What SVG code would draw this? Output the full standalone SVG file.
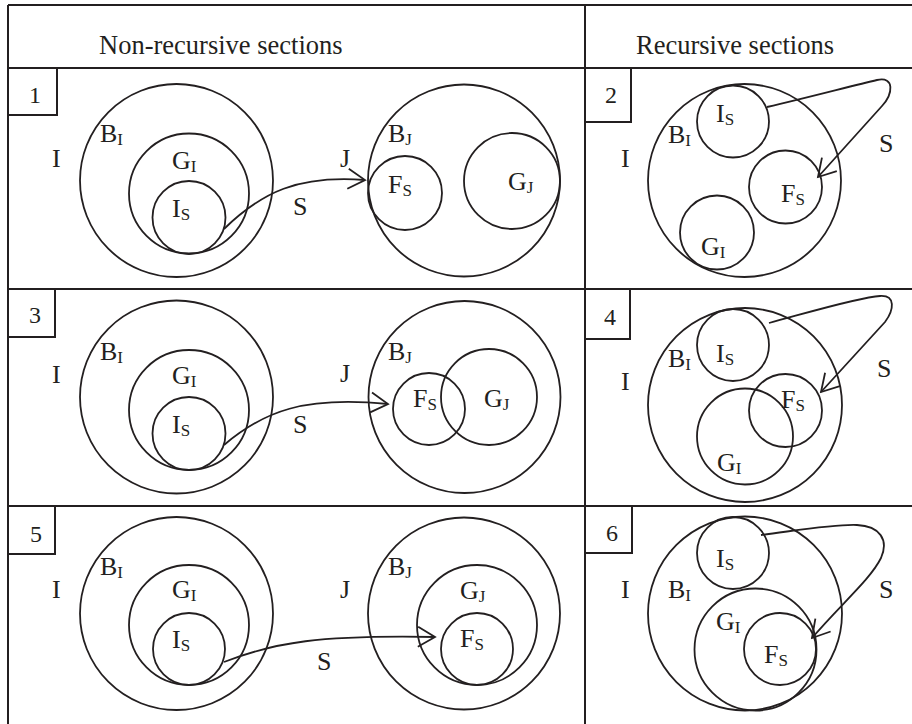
<svg xmlns="http://www.w3.org/2000/svg" width="912" height="724" viewBox="0 0 912 724">
<style>
.c{fill:none;stroke:#231f20;stroke-width:1.8}
.g{fill:none;stroke:#231f20;stroke-width:2}
.t{font-family:"Liberation Serif","Times New Roman",serif;font-size:26px;fill:#231f20}
.h{font-family:"Liberation Serif","Times New Roman",serif;font-size:26.5px;fill:#231f20}
.n{font-family:"Liberation Serif","Times New Roman",serif;font-size:24px;fill:#231f20;text-anchor:middle}
.s{font-size:17px}
.a{fill:none;stroke:#231f20;stroke-width:1.8;marker-end:url(#ah)}
</style>
<defs>
<marker id="ah" markerUnits="userSpaceOnUse" markerWidth="40" markerHeight="40" viewBox="0 0 40 40" refX="20" refY="20" orient="auto" overflow="visible">
<path d="M3,10 L20,20 L3,30" fill="none" stroke="#231f20" stroke-width="1.8"/>
</marker>
</defs>
<rect width="912" height="724" fill="#fff"/>
<g id="table">
<path class="g" d="M8,5 V724 M8,5 H912 M8,68 H912 M8,289 H912 M8,506 H912 M585,5 V724"/>
<path class="g" d="M8,115 H57 V68 M585,122 H631 V68 M8,337 H55 V289 M585,339 H630 V289 M8,554 H55 V506 M585,553 H632 V506"/>
<text class="h" x="99" y="54">Non-recursive sections</text>
<text class="h" x="636" y="54">Recursive sections</text>
<text class="n" x="35" y="103">1</text>
<text class="n" x="611" y="103">2</text>
<text class="n" x="35" y="323">3</text>
<text class="n" x="610" y="325">4</text>
<text class="n" x="36" y="542">5</text>
<text class="n" x="612" y="541">6</text>
</g>
<g id="p1-I"><text class="t" x="52" y="167">I</text></g>
<g id="p1-BI"><circle class="c" cx="176.5" cy="180.5" r="96.5"/><text class="t" x="100" y="142">B<tspan class="s" dy="3">I</tspan></text></g>
<g id="p1-GI"><circle class="c" cx="189" cy="193.5" r="60"/><text class="t" x="172" y="169">G<tspan class="s" dy="3">I</tspan></text></g>
<g id="p1-IS"><circle class="c" cx="189" cy="217.5" r="36.5"/><text class="t" x="172" y="217">I<tspan class="s" dy="3">S</tspan></text></g>
<g id="p1-S"><text class="t" x="293" y="215">S</text></g>
<g id="p1-J"><text class="t" x="340" y="167">J</text></g>
<g id="p1-BJ"><circle class="c" cx="464" cy="180.5" r="96"/><text class="t" x="388" y="142">B<tspan class="s" dy="3">J</tspan></text></g>
<g id="p1-FS"><circle class="c" cx="405" cy="193" r="37"/><text class="t" x="388" y="193">F<tspan class="s" dy="3">S</tspan></text></g>
<g id="p1-GJ"><circle class="c" cx="512" cy="181" r="48"/><text class="t" x="508" y="190">G<tspan class="s" dy="3">J</tspan></text></g>

<g id="p2-I"><text class="t" x="621" y="167">I</text></g>
<g id="p2-BI"><circle class="c" cx="744.5" cy="180.5" r="96.5"/><text class="t" x="668" y="143">B<tspan class="s" dy="3">I</tspan></text></g>
<g id="p2-IS"><circle class="c" cx="733" cy="121.5" r="36"/><text class="t" x="716" y="122">I<tspan class="s" dy="3">S</tspan></text></g>
<g id="p2-FS"><circle class="c" cx="785.5" cy="187" r="36.5"/><text class="t" x="781" y="202">F<tspan class="s" dy="3">S</tspan></text></g>
<g id="p2-GI"><circle class="c" cx="717" cy="232.5" r="37"/><text class="t" x="701" y="255">G<tspan class="s" dy="3">I</tspan></text></g>
<g id="p2-S"><text class="t" x="879" y="152">S</text></g>

<g id="p3-I"><text class="t" x="52" y="383">I</text></g>
<g id="p3-BI"><circle class="c" cx="176.5" cy="397" r="96.5"/><text class="t" x="100" y="360">B<tspan class="s" dy="3">I</tspan></text></g>
<g id="p3-GI"><circle class="c" cx="189" cy="410" r="60"/><text class="t" x="172" y="384">G<tspan class="s" dy="3">I</tspan></text></g>
<g id="p3-IS"><circle class="c" cx="189" cy="433.5" r="36.5"/><text class="t" x="172" y="433">I<tspan class="s" dy="3">S</tspan></text></g>
<g id="p3-S"><text class="t" x="293" y="433">S</text></g>
<g id="p3-J"><text class="t" x="340" y="382">J</text></g>
<g id="p3-BJ"><circle class="c" cx="464.5" cy="397" r="96"/><text class="t" x="388" y="360">B<tspan class="s" dy="3">J</tspan></text></g>
<g id="p3-FS"><circle class="c" cx="429" cy="409" r="36"/><text class="t" x="413" y="407">F<tspan class="s" dy="3">S</tspan></text></g>
<g id="p3-GJ"><circle class="c" cx="489" cy="397" r="48"/><text class="t" x="484" y="407">G<tspan class="s" dy="3">J</tspan></text></g>

<g id="p4-I"><text class="t" x="621" y="390">I</text></g>
<g id="p4-BI"><circle class="c" cx="745" cy="405" r="97"/><text class="t" x="668" y="367">B<tspan class="s" dy="3">I</tspan></text></g>
<g id="p4-IS"><circle class="c" cx="733" cy="345" r="36"/><text class="t" x="716" y="362">I<tspan class="s" dy="3">S</tspan></text></g>
<g id="p4-FS"><circle class="c" cx="785.5" cy="410.5" r="36.5"/><text class="t" x="781" y="408">F<tspan class="s" dy="3">S</tspan></text></g>
<g id="p4-GI"><circle class="c" cx="745" cy="436.5" r="48"/><text class="t" x="717" y="471">G<tspan class="s" dy="3">I</tspan></text></g>
<g id="p4-S"><text class="t" x="877" y="377">S</text></g>

<g id="p5-I"><text class="t" x="52" y="598">I</text></g>
<g id="p5-BI"><circle class="c" cx="176.5" cy="613.5" r="96.5"/><text class="t" x="100" y="575">B<tspan class="s" dy="3">I</tspan></text></g>
<g id="p5-GI"><circle class="c" cx="189" cy="625" r="60"/><text class="t" x="172" y="598">G<tspan class="s" dy="3">I</tspan></text></g>
<g id="p5-IS"><circle class="c" cx="189" cy="649" r="36"/><text class="t" x="172" y="648">I<tspan class="s" dy="3">S</tspan></text></g>
<g id="p5-S"><text class="t" x="317" y="670">S</text></g>
<g id="p5-J"><text class="t" x="340" y="598">J</text></g>
<g id="p5-BJ"><circle class="c" cx="464" cy="613.5" r="96"/><text class="t" x="388" y="575">B<tspan class="s" dy="3">J</tspan></text></g>
<g id="p5-GJ"><circle class="c" cx="477" cy="625" r="60"/><text class="t" x="460" y="599">G<tspan class="s" dy="3">J</tspan></text></g>
<g id="p5-FS"><circle class="c" cx="477" cy="649" r="36"/><text class="t" x="460" y="647">F<tspan class="s" dy="3">S</tspan></text></g>

<g id="p6-I"><text class="t" x="621" y="598">I</text></g>
<g id="p6-BI"><circle class="c" cx="745" cy="613.5" r="97"/><text class="t" x="668" y="598">B<tspan class="s" dy="3">I</tspan></text></g>
<g id="p6-IS"><circle class="c" cx="733" cy="553" r="36"/><text class="t" x="716" y="567">I<tspan class="s" dy="3">S</tspan></text></g>
<g id="p6-GI"><circle class="c" cx="755.5" cy="649.5" r="61"/><text class="t" x="716" y="630">G<tspan class="s" dy="3">I</tspan></text></g>
<g id="p6-FS"><circle class="c" cx="780" cy="649" r="36"/><text class="t" x="764" y="663">F<tspan class="s" dy="3">S</tspan></text></g>
<g id="p6-S"><text class="t" x="879" y="598">S</text></g>

<g id="connectors">
<path class="a" d="M224,229 C262,192 298,175 365,180"/>
<path class="a" d="M224,445 C264,411 304,396 388,404"/>
<path class="a" d="M224,662 C275,642 320,635 435,637"/>
<path class="a" d="M767,107 C810,97 855,85 877,80 C895,76 893,94 882,106 L818,177"/>
<path class="a" d="M769,323 C810,312 860,297 880,296 C896,295 894,310 885,322 L821,392"/>
<path class="a" d="M761,535 C800,530 835,524 857,525 C880,526 889,540 881,558 C870,580 840,605 812,638"/>
</g>
</svg>
